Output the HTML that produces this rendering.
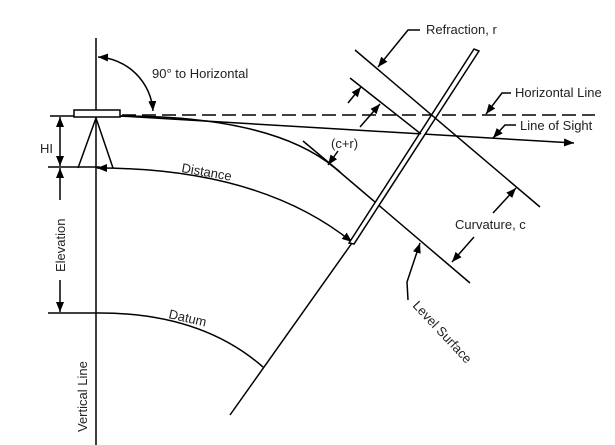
<!DOCTYPE html>
<html><head><style>body{margin:0;background:#fff}svg{display:block}text{font-family:"Liberation Sans",sans-serif;font-size:13px;fill:#222}</style></head>
<body>
<svg width="615" height="445" viewBox="0 0 615 445" xmlns="http://www.w3.org/2000/svg">
<defs><marker id="a" markerWidth="10" markerHeight="8" refX="10" refY="4" orient="auto" markerUnits="userSpaceOnUse"><path d="M0,0 L10,4 L0,8 z" fill="#000"/></marker>
<marker id="s" markerWidth="10" markerHeight="8" refX="10" refY="4" orient="auto-start-reverse" markerUnits="userSpaceOnUse"><path d="M0,0 L10,4 L0,8 z" fill="#000"/></marker></defs>
<g stroke="#000" stroke-width="1.5" fill="none">
<line x1="96" y1="38" x2="96" y2="445"/>
<rect x="74" y="110" width="46" height="7" fill="#fff"/>
<line x1="122" y1="115" x2="595" y2="115" stroke-dasharray="14,6"/>
<path d="M96 118 L78 168 M96 118 L113 168"/>
<line x1="50" y1="116" x2="74" y2="116"/>
<line x1="48" y1="167" x2="100" y2="167"/>
<line x1="48" y1="313" x2="96" y2="313"/>
<line x1="60" y1="140" x2="60" y2="117" marker-end="url(#a)"/>
<line x1="60" y1="140" x2="60" y2="166" marker-end="url(#a)"/>
<line x1="60" y1="200" x2="60" y2="168" marker-end="url(#a)"/>
<line x1="60" y1="280" x2="60" y2="312" marker-end="url(#a)"/>
<path d="M98 57 A58 58 0 0 1 153 111" marker-start="url(#s)" marker-end="url(#s)"/>
<line x1="120" y1="116" x2="574" y2="143" marker-end="url(#a)"/>
<path d="M120 116 Q273 116 335 168 L470 283"/>
<line x1="303" y1="141" x2="340" y2="172"/>
<path d="M97 168 Q260 168 352 242" marker-start="url(#s)" marker-end="url(#s)"/>
<path d="M96 313 Q200 312 263 367"/>
<line x1="230" y1="415" x2="352" y2="243"/>
<path d="M349 243 L474 49 L479 51 L354 244 z" fill="#fff"/>
<line x1="355" y1="50" x2="540" y2="207"/>
<line x1="350" y1="78" x2="421" y2="134"/>
<line x1="348" y1="103" x2="361" y2="87" marker-end="url(#a)"/>
<line x1="360" y1="127" x2="380" y2="104" marker-end="url(#a)"/>
<line x1="338" y1="151" x2="328" y2="165" marker-end="url(#a)"/>
<path d="M420 30 L408 30 L378 67" marker-end="url(#a)"/>
<path d="M511 93 L502 93 L486 114" marker-end="url(#a)"/>
<path d="M516 125 L505 125 L493 138" marker-end="url(#a)"/>
<line x1="493" y1="213" x2="516" y2="188" marker-end="url(#a)"/>
<line x1="474" y1="237" x2="452" y2="262" marker-end="url(#a)"/>
<path d="M408 300 L407 282 L420 243" marker-end="url(#a)"/>
</g>
<text x="152" y="78">90° to Horizontal</text>
<text x="426" y="34">Refraction, r</text>
<text x="515" y="97">Horizontal Line</text>
<text x="520" y="130">Line of Sight</text>
<text x="331" y="148">(c+r)</text>
<text x="455" y="229">Curvature, c</text>
<text x="40" y="153">HI</text>
<text transform="translate(181,172) rotate(10)">Distance</text>
<text transform="translate(168,318) rotate(13)">Datum</text>
<text transform="translate(412,306) rotate(47)">Level Surface</text>
<text transform="translate(65,272) rotate(-90)">Elevation</text>
<text transform="translate(87,432) rotate(-90)">Vertical Line</text>
</svg>
</body></html>
